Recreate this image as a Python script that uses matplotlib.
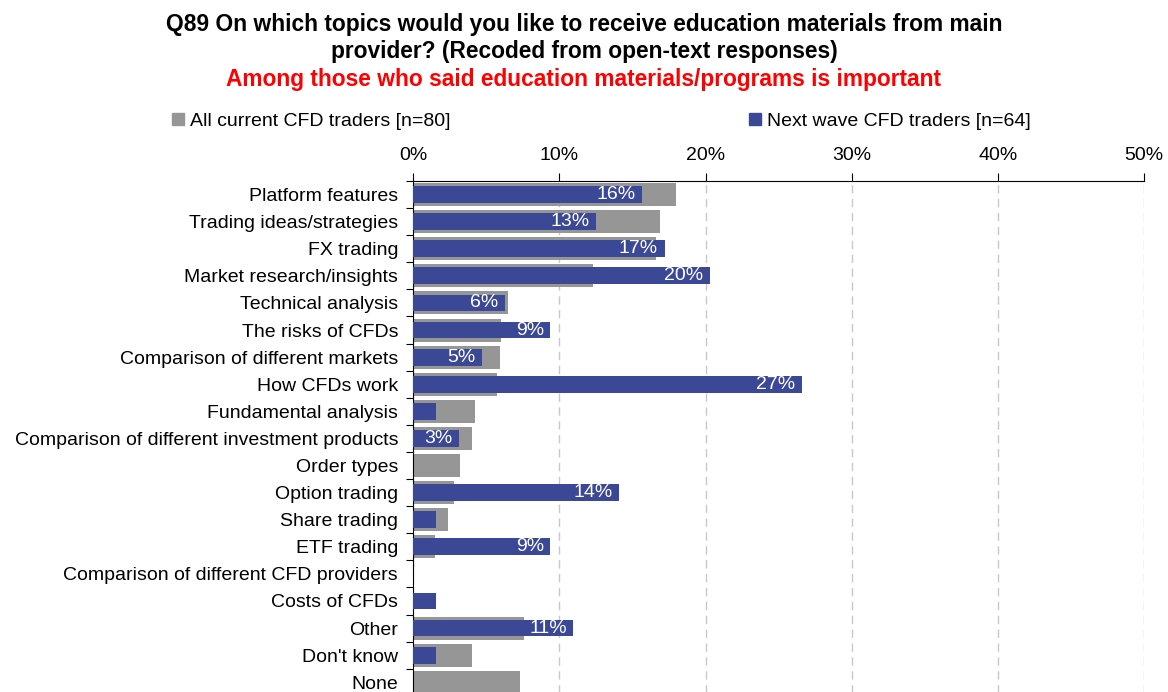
"""Q89 education topics: current vs next-wave CFD traders."""

import matplotlib
matplotlib.use("Agg")
import matplotlib.pyplot as plt
from matplotlib.patches import Patch
from matplotlib.ticker import FuncFormatter
import numpy as np

plt.rcParams["font.family"] = ["Liberation Sans", "DejaVu Sans"]

topics = [
    "Platform features",
    "Trading ideas/strategies",
    "FX trading",
    "Market research/insights",
    "Technical analysis",
    "The risks of CFDs",
    "Comparison of different markets",
    "How CFDs work",
    "Fundamental analysis",
    "Comparison of different investment products",
    "Order types",
    "Option trading",
    "Share trading",
    "ETF trading",
    "Comparison of different CFD providers",
    "Costs of CFDs",
    "Other",
    "Don't know",
    "None",
]
current_pct = [18.0, 16.9, 16.6, 12.3, 6.5, 6.0, 5.9, 5.7, 4.2, 4.0,
               3.2, 2.8, 2.4, 1.5, 0.0, 0.0, 7.6, 4.0, 7.3]
next_wave_pct = [15.63, 12.5, 17.19, 20.31, 6.25, 9.38, 4.69, 26.56, 1.56, 3.13,
                 0.0, 14.06, 1.56, 9.38, 0.0, 1.56, 10.94, 1.56, 0.0]
label_min = 3.0

title_lines = [
    "Q89 On which topics would you like to receive education materials from main",
    "provider? (Recoded from open-text responses)",
]
subtitle = "Among those who said education materials/programs is important"
current_name = "All current CFD traders [n=80]"
next_name = "Next wave CFD traders [n=64]"

gray = "#969696"
blue = "#3A4896"
fs = 14

fig = plt.figure(figsize=(11.68, 6.92), dpi=100)
# plot area runs a bit past the bottom edge, as in the reference
ax = fig.add_axes([0.3539, -0.0055, 0.6256, 0.7439])

y = np.arange(len(topics))
ax.barh(y, current_pct, height=0.85, color=gray, zorder=2)
ax.barh(y, next_wave_pct, height=0.62, color=blue, zorder=3)

for yi, v in zip(y, next_wave_pct):
    if v >= label_min:
        ax.text(v - 0.45, yi, f"{int(v + 0.5)}%", ha="right", va="center",
                color="white", fontsize=fs, zorder=4)

ax.set_xlim(0, 50)
ax.set_ylim(len(topics) - 0.5, -0.5)
ax.set_xticks(np.arange(0, 51, 10))
ax.xaxis.set_major_formatter(FuncFormatter(lambda v, _: f"{v:.0f}%"))
ax.xaxis.tick_top()
ax.tick_params(axis="x", direction="out", length=6, width=0.8, pad=6, labelsize=fs)

ax.set_yticks(y)
ax.set_yticklabels(topics)
ax.set_yticks(np.arange(len(topics) + 1) - 0.5, minor=True)
ax.tick_params(axis="y", which="major", length=0, pad=11, labelsize=fs)
ax.tick_params(axis="y", which="minor", direction="out", length=5, width=0.8)

for side in ("right", "bottom"):
    ax.spines[side].set_visible(False)
ax.spines["left"].set_linewidth(0.8)
ax.spines["top"].set_linewidth(0.8)

ax.grid(axis="x", color="#C8C8C8", linestyle=(0, (6, 4)), linewidth=1.0, zorder=0)
ax.set_axisbelow(True)

fig.text(0.5, 0.9556, title_lines[0], ha="center", va="baseline", fontsize=16.4,
         fontweight="bold")
fig.text(0.5, 0.9169, title_lines[1], ha="center", va="baseline", fontsize=16.4,
         fontweight="bold")
fig.text(0.5, 0.8757, subtitle, ha="center", va="baseline", fontsize=16.4,
         fontweight="bold", color="#FF0000")

leg_kw = dict(frameon=False, fontsize=fs, handlelength=0.62, handleheight=0.62,
              handletextpad=0.3, borderaxespad=0, borderpad=0)
fig.legend(handles=[Patch(color=gray, label=current_name)], loc="center left",
           bbox_to_anchor=(0.147, 0.825), **leg_kw)
fig.legend(handles=[Patch(color=blue, label=next_name)], loc="center left",
           bbox_to_anchor=(0.641, 0.825), **leg_kw)

fig.savefig("out.png", dpi=100)
plt.close(fig)
